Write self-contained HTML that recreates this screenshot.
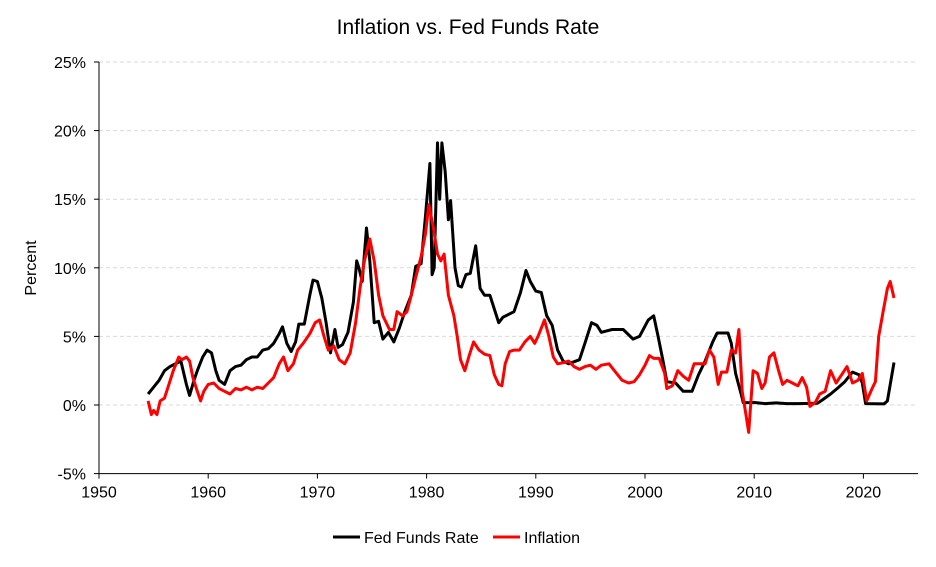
<!DOCTYPE html>
<html><head><meta charset="utf-8"><style>
body{margin:0;background:#fff;}
svg{font-family:"Liberation Sans",Arial,sans-serif;}
</style></head><body>
<svg id="c" width="936" height="562">
<text x="468" y="34" text-anchor="middle" font-size="21" fill="#000">Inflation vs. Fed Funds Rate</text>
<text transform="translate(36,268) rotate(-90)" text-anchor="middle" font-size="16">Percent</text>
<g id="grid"></g><g id="axes"></g><g id="series"></g>
<g>
<line x1="333" y1="537" x2="360" y2="537" stroke="#000" stroke-width="3"/>
<text x="364" y="543" font-size="16">Fed Funds Rate</text>
<line x1="493" y1="537" x2="520" y2="537" stroke="#f00" stroke-width="3"/>
<text x="524" y="543" font-size="16">Inflation</text>
</g>
</svg>
<script>
const yTicks=[-5,0,5,10,15,20,25];
const xTicks=[1950,1960,1970,1980,1990,2000,2010,2020];
const fedYears=[1954.5,1955,1955.5,1956,1956.5,1957,1957.5,1958,1958.3,1958.7,1959,1959.5,1959.9,1960.3,1960.7,1961,1961.5,1962,1962.5,1963,1963.5,1964,1964.5,1965,1965.5,1966,1966.5,1966.8,1967.2,1967.6,1968,1968.3,1968.8,1969.3,1969.6,1970,1970.4,1970.8,1971.2,1971.6,1971.9,1972.3,1972.8,1973.3,1973.6,1973.8,1974.1,1974.5,1974.8,1975.2,1975.6,1976,1976.5,1977,1977.5,1978,1978.6,1979,1979.5,1979.9,1980.3,1980.5,1980.7,1981,1981.2,1981.4,1981.7,1982,1982.2,1982.6,1982.9,1983.2,1983.6,1984,1984.5,1984.9,1985.3,1985.8,1986.2,1986.6,1987,1987.5,1988,1988.6,1989.1,1989.5,1990,1990.5,1991,1991.5,1992,1992.5,1993,1994,1994.5,1995.1,1995.6,1996,1997,1998,1998.9,1999.5,2000.3,2000.8,2001.2,2001.7,2002,2002.8,2003.5,2004.3,2004.9,2005.5,2006.2,2006.6,2007.6,2007.9,2008.3,2008.9,2009,2010,2011,2012,2013,2014,2015.8,2016.3,2017,2017.6,2018.3,2019,2019.6,2019.9,2020.2,2021.9,2022.2,2022.5,2022.8];
const fedValues=[0.8,1.3,1.8,2.5,2.8,3.0,3.2,1.5,0.7,1.8,2.5,3.5,4.0,3.8,2.5,1.8,1.5,2.5,2.8,2.9,3.3,3.5,3.5,4.0,4.1,4.5,5.2,5.7,4.5,3.9,4.6,5.9,5.9,8.0,9.1,9.0,7.8,6.0,3.8,5.5,4.2,4.4,5.3,7.5,10.5,10.0,9.0,12.9,10.5,6.0,6.1,4.8,5.3,4.6,5.6,6.8,8.0,10.1,10.3,13.8,17.6,9.5,10.0,19.1,15.0,19.1,17.0,13.5,14.9,10.0,8.7,8.6,9.5,9.6,11.6,8.5,8.0,8.0,7.0,6.0,6.4,6.6,6.8,8.2,9.8,9.0,8.3,8.2,6.5,5.8,4.0,3.2,3.0,3.3,4.5,6.0,5.8,5.3,5.5,5.5,4.8,5.0,6.2,6.5,5.0,3.0,1.7,1.6,1.0,1.0,2.2,3.2,4.6,5.25,5.25,4.5,2.3,0.5,0.16,0.18,0.1,0.15,0.1,0.1,0.13,0.4,0.8,1.2,1.7,2.4,2.2,1.6,0.1,0.08,0.3,1.7,3.1];
const infYears=[1954.5,1954.8,1955,1955.3,1955.6,1956,1956.4,1956.8,1957.3,1957.6,1958,1958.3,1958.6,1959,1959.3,1959.6,1960,1960.5,1961,1961.5,1962,1962.5,1963,1963.5,1964,1964.5,1965,1965.5,1966,1966.5,1966.9,1967.3,1967.8,1968.2,1968.7,1969.3,1969.8,1970.2,1970.6,1971,1971.5,1972,1972.5,1973,1973.5,1973.9,1974.3,1974.8,1975.2,1975.6,1976,1976.6,1977,1977.3,1977.8,1978.2,1978.6,1979,1979.5,1979.9,1980.2,1980.6,1981,1981.3,1981.6,1982,1982.5,1982.8,1983.1,1983.5,1983.9,1984.3,1984.8,1985.3,1985.8,1986.2,1986.6,1986.9,1987.2,1987.6,1988,1988.5,1989,1989.5,1989.9,1990.2,1990.8,1991.2,1991.6,1992,1992.6,1993,1993.5,1994,1994.5,1995,1995.5,1996,1996.7,1997.3,1997.9,1998.5,1999,1999.5,2000,2000.4,2000.8,2001.3,2001.8,2002,2002.5,2003,2003.5,2004,2004.5,2005,2005.5,2005.9,2006.3,2006.7,2007,2007.5,2007.9,2008.3,2008.6,2008.9,2009.2,2009.5,2009.9,2010.3,2010.7,2011,2011.4,2011.8,2012.2,2012.6,2013,2013.5,2014,2014.4,2014.8,2015.1,2015.6,2016,2016.5,2017,2017.5,2018,2018.5,2019,2019.5,2019.9,2020.3,2020.8,2021.1,2021.4,2021.8,2022.2,2022.45,2022.8];
const infValues=[0.3,-0.7,-0.4,-0.7,0.3,0.5,1.5,2.5,3.5,3.3,3.5,3.2,2.0,1.0,0.3,1.0,1.5,1.6,1.2,1.0,0.8,1.2,1.1,1.3,1.1,1.3,1.2,1.6,2.0,3.0,3.5,2.5,3.0,4.0,4.5,5.2,6.0,6.2,5.0,4.0,4.3,3.3,3.0,3.8,6.0,8.5,10.5,12.1,10.5,8.0,6.5,5.5,5.5,6.8,6.5,6.8,8.0,9.3,10.8,12.5,14.6,13.0,11.0,10.5,11.0,8.0,6.5,5.0,3.3,2.5,3.6,4.6,4.0,3.7,3.6,2.2,1.5,1.4,3.0,3.9,4.0,4.0,4.6,5.0,4.5,5.0,6.2,5.0,3.5,3.0,3.1,3.2,2.8,2.6,2.8,2.9,2.6,2.9,3.0,2.4,1.8,1.6,1.7,2.2,2.9,3.6,3.4,3.4,2.3,1.2,1.4,2.5,2.1,1.8,3.0,3.0,3.0,4.0,3.5,1.5,2.4,2.4,4.0,3.8,5.5,1.0,-0.5,-2.0,2.5,2.3,1.2,1.6,3.5,3.8,2.6,1.5,1.8,1.6,1.4,2.0,1.3,-0.1,0.2,0.8,1.0,2.5,1.6,2.2,2.8,1.6,1.8,2.3,0.3,1.2,1.7,5.0,6.8,8.5,9.0,7.8];

const NS='http://www.w3.org/2000/svg';
const X0=99,X1=918,Y0=405;
const x=v=>X0+(v-1950)*(X1-X0)/75;
const y=v=>Y0-v*(68.6/5);
function mk(t,p,a){const e=document.createElementNS(NS,t);for(const k in a)e.setAttribute(k,a[k]);p.appendChild(e);return e;}
const grid=document.getElementById('grid'),axes=document.getElementById('axes'),ser=document.getElementById('series');
yTicks.forEach(t=>{
  if(t!==-5){const g=mk('line',grid,{x1:X0,x2:X1,y1:y(t),y2:y(t),stroke:'#d9d9d9','stroke-dasharray':'4,3','stroke-width':1});
  
  }
  const tk=mk('line',axes,{x1:X0-5,x2:X0,y1:y(t),y2:y(t),stroke:'#000'});
  
  
  const l=mk('text',axes,{x:X0-13,y:y(t)+6,'text-anchor':'end','font-size':16});
  l.textContent=t+'%';
  
  
});
const ya=mk('line',axes,{x1:X0,x2:X0,y1:y(25),y2:y(-5),stroke:'#000'});


const xa=mk('line',axes,{x1:X0,x2:X1,y1:y(-5),y2:y(-5),stroke:'#000'});


xTicks.forEach(t=>{
  const tk=mk('line',axes,{x1:x(t),x2:x(t),y1:y(-5),y2:y(-5)+5,stroke:'#000'});
  
  
  const l=mk('text',axes,{x:x(t),y:y(-5)+24,'text-anchor':'middle','font-size':16});
  l.textContent=t;
  
  
});
function line(xs,vs,col){return xs.map((t,i)=>(i?'L':'M')+x(t).toFixed(1)+','+y(vs[i]).toFixed(1)).join('');}
const fp=mk('path',ser,{d:line(fedYears,fedValues),fill:'none',stroke:'#000','stroke-width':3,'stroke-linejoin':'round'});


const ip=mk('path',ser,{d:line(infYears,infValues),fill:'none',stroke:'#f00','stroke-width':3,'stroke-linejoin':'round'});


</script>
</body></html>
